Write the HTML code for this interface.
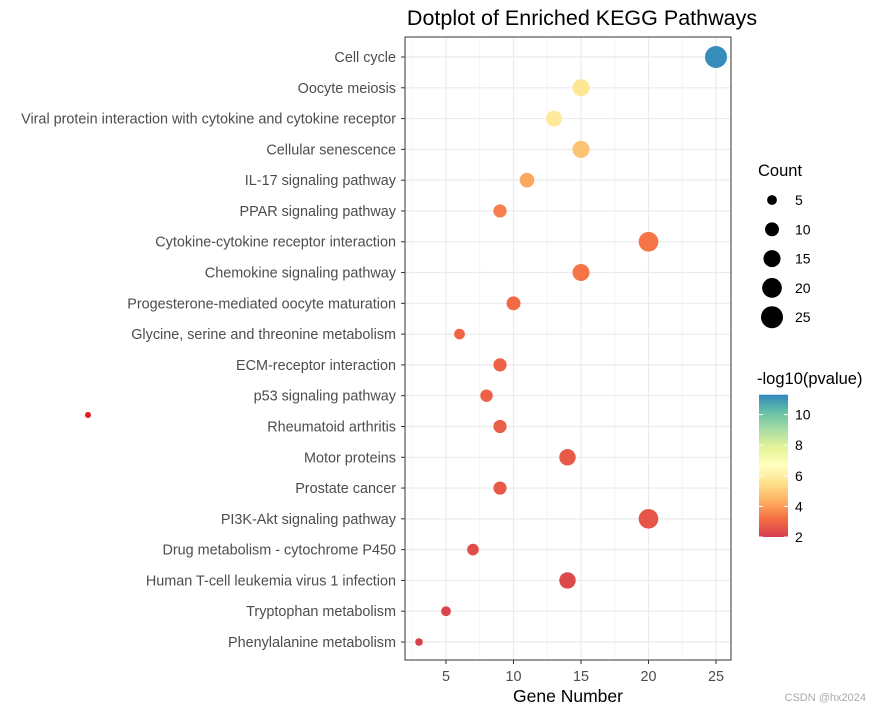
<!DOCTYPE html>
<html><head><meta charset="utf-8"><style>
body{margin:0;background:#fff;font-family:"Liberation Sans",Arial,sans-serif}
svg{display:block}
</style></head><body>
<svg id="chart" width="872" height="712" xmlns="http://www.w3.org/2000/svg"></svg>
<script>
const categories=["Cell cycle","Oocyte meiosis","Viral protein interaction with cytokine and cytokine receptor","Cellular senescence","IL-17 signaling pathway","PPAR signaling pathway","Cytokine-cytokine receptor interaction","Chemokine signaling pathway","Progesterone-mediated oocyte maturation","Glycine, serine and threonine metabolism","ECM-receptor interaction","p53 signaling pathway","Rheumatoid arthritis","Motor proteins","Prostate cancer","PI3K-Akt signaling pathway","Drug metabolism - cytochrome P450","Human T-cell leukemia virus 1 infection","Tryptophan metabolism","Phenylalanine metabolism"];
const counts=[25,15,13,15,11,9,20,15,10,6,9,8,9,14,9,20,7,14,5,3];
const logp=[11.2,5.7,5.8,4.8,4.2,3.5,3.3,3.3,3.1,3.0,2.9,2.9,2.8,2.7,2.7,2.6,2.4,2.3,2.2,2.1];
const xTicks=[5,10,15,20,25];
const sizeLegend=[5,10,15,20,25];
const colorTicks=[2,4,6,8,10];

const NS="http://www.w3.org/2000/svg";
const svg=document.getElementById('chart');
function el(t,a,p){const e=document.createElementNS(NS,t);for(const k in a)e.setAttribute(k,a[k]);(p||svg).appendChild(e);return e;}
const L=405,R=731,T=37,B=660;
const xs=v=>378.5+v*13.5;
const ys=i=>57+i*(642-57)/19;
const rs=c=>2.2*Math.sqrt(c);
const stops=["#D53E4F","#F46D43","#FDAE61","#FEE08B","#FFFFBF","#E6F598","#ABDDA4","#66C2A5","#3288BD"];
const cmin=2,cmax=11.3;
function hex(h){return [1,3,5].map(i=>parseInt(h.substr(i,2),16));}
function col(v){let t=(v-cmin)/(cmax-cmin)*(stops.length-1);t=Math.max(0,Math.min(stops.length-1,t));const i=Math.min(Math.floor(t),stops.length-2),f=t-i;const a=hex(stops[i]),b=hex(stops[i+1]);return "rgb("+a.map((x,k)=>Math.round(x+(b[k]-x)*f)).join(",")+")";}

let t=el('text',{x:582,y:25,'text-anchor':'middle','font-size':21.5,fill:'#000'});t.textContent="Dotplot of Enriched KEGG Pathways";


for(let v=2.5;v<=25;v+=5){el('line',{x1:xs(v),x2:xs(v),y1:T,y2:B,stroke:'#f2f2f2','stroke-width':0.8});}
xTicks.forEach(v=>{el('line',{x1:xs(v),x2:xs(v),y1:T,y2:B,stroke:'#ebebeb','stroke-width':1.2});});
categories.forEach((c,i)=>{el('line',{x1:L,x2:R,y1:ys(i),y2:ys(i),stroke:'#ebebeb','stroke-width':1.2});});
const frame=el('rect',{x:L,y:T,width:R-L,height:B-T,fill:'none',stroke:'#333','stroke-width':1});


categories.forEach((c,i)=>{
  el('line',{x1:L-4,x2:L,y1:ys(i),y2:ys(i),stroke:'#333'});
  const lb=el('text',{x:396,y:ys(i)+5,'text-anchor':'end','font-size':14.4,fill:'#4d4d4d'});lb.textContent=c;
  
  const d=el('circle',{cx:xs(counts[i]),cy:ys(i),r:rs(counts[i]),fill:col(logp[i])});
  
});
xTicks.forEach(v=>{
  el('line',{x1:xs(v),x2:xs(v),y1:B,y2:B+4,stroke:'#333'});
  const lb=el('text',{x:xs(v),y:681,'text-anchor':'middle','font-size':14.4,fill:'#4d4d4d'});lb.textContent=v;
  
});
t=el('text',{x:568,y:702,'text-anchor':'middle','font-size':17.5,fill:'#000'});t.textContent="Gene Number";


t=el('text',{x:758,y:176,'font-size':16.5,fill:'#000'});t.textContent="Count";

sizeLegend.forEach((c,i)=>{const y=200+i*29.3;
  const d=el('circle',{cx:772,cy:y,r:rs(c),fill:'#000'});
  const lb=el('text',{x:795,y:y+5,'font-size':14,fill:'#000'});lb.textContent=c;
  });

t=el('text',{x:757,y:384,'font-size':16.5,fill:'#000'});t.textContent="-log10(pvalue)";

const defs=el('defs',{});const g=el('linearGradient',{id:'cg',x1:0,y1:1,x2:0,y2:0},defs);
stops.forEach((s,i)=>el('stop',{offset:i/(stops.length-1),'stop-color':s},g));
const cy=v=>537-(v-cmin)*15.3;
const cb=el('rect',{x:759,y:cy(cmax),width:29,height:cy(cmin)-cy(cmax),fill:'url(#cg)'});

colorTicks.forEach(v=>{const y=cy(v);
  el('line',{x1:759,x2:763,y1:y,y2:y,stroke:'#fff'});el('line',{x1:784,x2:788,y1:y,y2:y,stroke:'#fff'});
  const lb=el('text',{x:795,y:y+5,'font-size':14,fill:'#000'});lb.textContent=v;
  });

const sd=el('circle',{cx:88,cy:415,r:3,fill:'#e31a1c'});
t=el('text',{x:866,y:701,'text-anchor':'end','font-size':11,fill:'#aaa'});t.textContent="CSDN @hx2024";

</script>
</body></html>
